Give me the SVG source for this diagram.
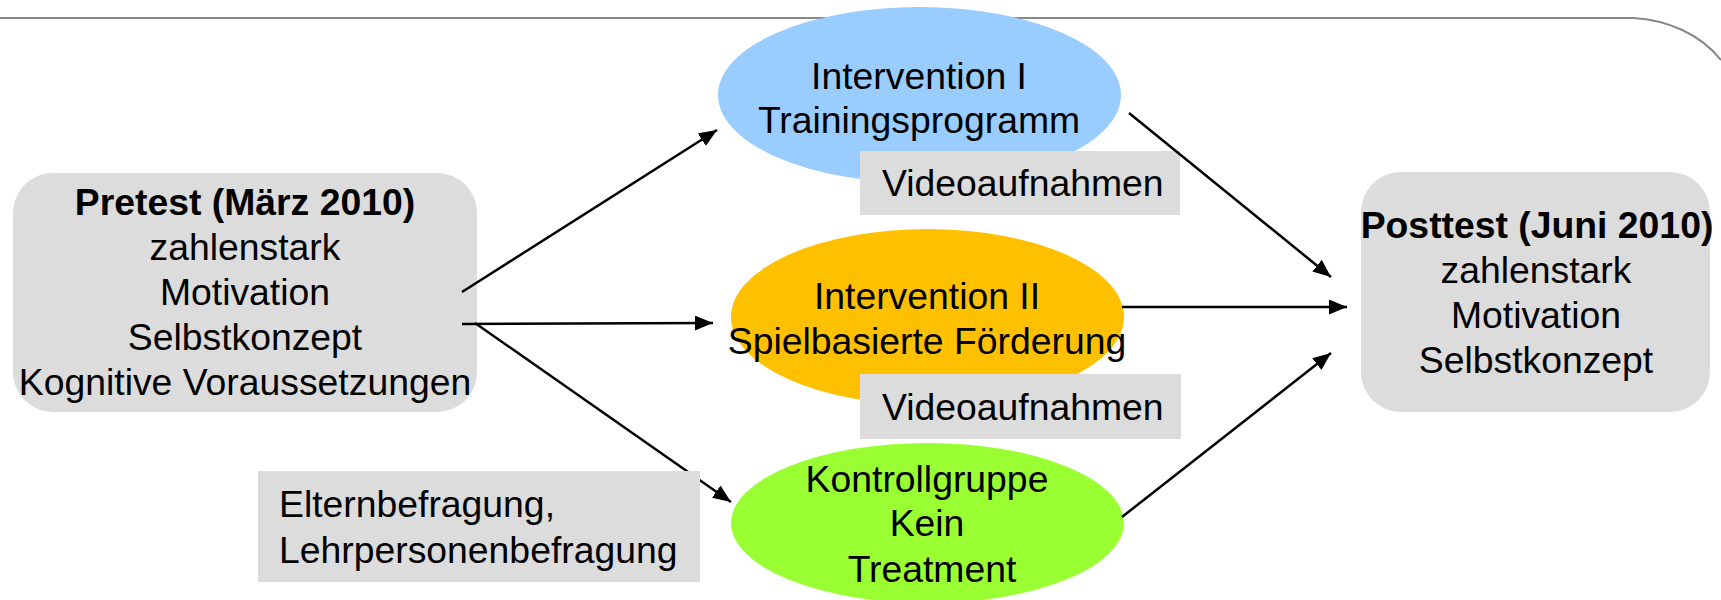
<svg xmlns="http://www.w3.org/2000/svg" width="1721" height="600" viewBox="0 0 1721 600">
<style>
text{font-family:"Liberation Sans",Arial,Helvetica,sans-serif;font-size:37.33px;fill:#000}
.c{text-anchor:middle}
.b{font-weight:bold}
.box{fill:#DCDCDC}
.conn{stroke:#000;stroke-width:2.5;fill:none;marker-end:url(#ah)}
</style>
<defs>
<marker id="ah" viewBox="0 0 18 15" refX="18" refY="7.5" markerWidth="18" markerHeight="15" markerUnits="userSpaceOnUse" orient="auto">
<path d="M0,0 L18,7.5 L0,15 z" fill="#000"/>
</marker>
</defs>
<rect width="1721" height="600" fill="#fff"/>
<path d="M0,18 H1633 C1668,20 1700,34 1721,60" fill="none" stroke="#888" stroke-width="2"/>

<g id="pretest">
<rect class="box" x="13" y="173" width="464" height="239" rx="40" ry="40"/>
<text class="c b" x="245" y="215">Pretest (März 2010)</text>
<text class="c" x="245" y="260">zahlenstark</text>
<text class="c" x="245" y="305">Motivation</text>
<text class="c" x="245" y="350">Selbstkonzept</text>
<text class="c" x="245" y="395">Kognitive Voraussetzungen</text>
</g>
<g id="intervention1">
<ellipse cx="919.5" cy="95" rx="201.5" ry="88" fill="#99CCFF"/>
<text class="c" x="919" y="89">Intervention I</text>
<text class="c" x="919" y="133">Trainingsprogramm</text>
</g>
<g id="intervention2">
<ellipse cx="927.5" cy="317" rx="196.5" ry="88" fill="#FFC000"/>
<text class="c" x="927" y="309">Intervention II</text>
<text class="c" x="927" y="354">Spielbasierte Förderung</text>
</g>
<g id="kontrollgruppe">
<ellipse cx="927.5" cy="523" rx="196.5" ry="80" fill="#99FF33"/>
<text class="c" x="927" y="492">Kontrollgruppe</text>
<text class="c" x="927" y="536">Kein</text>
<text class="c" x="932" y="582">Treatment</text>
</g>
<g id="video1">
<rect class="box" x="860" y="151" width="320" height="64"/>
<text x="882" y="196">Videoaufnahmen</text>
</g>
<g id="video2">
<rect class="box" x="860" y="374" width="321" height="65"/>
<text x="882" y="420">Videoaufnahmen</text>
</g>

<g id="connectors">
<line class="conn" x1="462" y1="292" x2="717" y2="130"/>
<line class="conn" x1="462" y1="324" x2="713" y2="323"/>
<line class="conn" x1="475" y1="323" x2="731" y2="502"/>
<line class="conn" x1="1129" y1="113" x2="1331" y2="277"/>
<line class="conn" x1="1122" y1="307" x2="1347" y2="307"/>
<line class="conn" x1="1122" y1="517" x2="1331" y2="353"/>
</g>

<g id="befragung">
<rect class="box" x="258" y="471" width="442" height="111"/>
<text x="279" y="517">Elternbefragung,</text>
<text x="279" y="563">Lehrpersonenbefragung</text>
</g>
<g id="posttest">
<rect class="box" x="1361" y="172" width="349" height="240" rx="40" ry="40"/>
<text class="c b" x="1537" y="238">Posttest (Juni 2010)</text>
<text class="c" x="1536" y="283">zahlenstark</text>
<text class="c" x="1536" y="328">Motivation</text>
<text class="c" x="1536" y="373">Selbstkonzept</text>
</g>
</svg>
